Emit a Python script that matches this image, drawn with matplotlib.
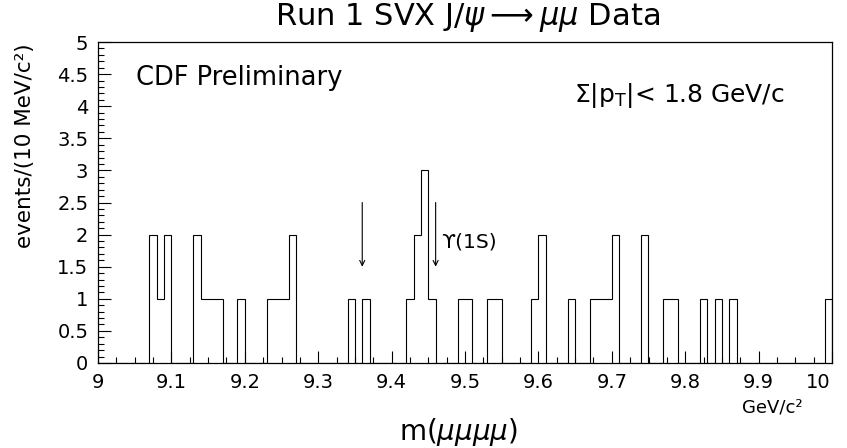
import numpy as np
import matplotlib
matplotlib.use("Agg")
import matplotlib.pyplot as plt
from matplotlib.transforms import ScaledTranslation

plt.rcParams['font.family'] = ['DejaVu Sans']
plt.rcParams['mathtext.fontset'] = 'dejavusans'

# histogram: 100 bins of 10 MeV from 9.0 to 10.0 GeV
x_lo, x_hi = 9.0, 10.0
counts = [0, 0, 0, 0, 0, 0, 0, 2, 1, 2,
          0, 0, 0, 2, 1, 1, 1, 0, 0, 1,
          0, 0, 0, 1, 1, 1, 2, 0, 0, 0,
          0, 0, 0, 0, 1, 0, 1, 0, 0, 0,
          0, 0, 1, 2, 3, 1, 0, 0, 0, 1,
          1, 0, 0, 1, 1, 0, 0, 0, 0, 1,
          2, 0, 0, 0, 1, 0, 0, 1, 1, 1,
          2, 0, 0, 0, 2, 0, 0, 1, 1, 0,
          0, 0, 1, 0, 1, 0, 1, 0, 0, 0,
          0, 0, 0, 0, 0, 0, 0, 0, 0, 1]
edges = np.linspace(x_lo, x_hi, len(counts) + 1)

# arrows marking the mass window
arrow_x = [9.36, 9.46]
arrow_top = 2.5
arrow_bottom = 1.5
x_ticks = [9.0, 9.1, 9.2, 9.3, 9.4, 9.5, 9.6, 9.7, 9.8, 9.9, 10.0]
x_ticklabels = ["9", "9.1", "9.2", "9.3", "9.4", "9.5", "9.6", "9.7", "9.8", "9.9", "10"]
y_ticks = [0, 0.5, 1, 1.5, 2, 2.5, 3, 3.5, 4, 4.5, 5]
y_ticklabels = ["0", "0.5", "1", "1.5", "2", "2.5", "3", "3.5", "4", "4.5", "5"]

fig = plt.figure(figsize=(8.47, 4.48), dpi=100)
ax = fig.add_axes([98 / 847, 1 - 363 / 448, 734 / 847, 321 / 448])

ax.stairs(counts, edges, color='black', linewidth=0.8)

ax.set_xlim(x_lo, x_hi)
ax.set_ylim(0, 5)
ax.set_xticks(x_ticks)
ax.set_xticklabels(x_ticklabels)
ax.set_xticks(np.arange(9.0, 10.0001, 0.025), minor=True)
ax.set_yticks(y_ticks)
ax.set_yticklabels(y_ticklabels)
ax.set_yticks(np.arange(0, 5.0001, 0.1), minor=True)
ax.tick_params(which='both', direction='in', top=False, right=False, labelsize=14, width=0.8)
ax.tick_params(which='major', length=9, pad=7)
ax.tick_params(which='minor', length=4.5)
for s in ax.spines.values():
    s.set_linewidth(0.9)

# last label sits a bit left of the axis end
lab = ax.get_xticklabels()[-1]
lab.set_transform(lab.get_transform() + ScaledTranslation(-14 / 100, 0, fig.dpi_scale_trans))

for xa in arrow_x:
    ax.annotate("", xy=(xa, arrow_bottom), xytext=(xa, arrow_top),
                arrowprops=dict(arrowstyle='->', color='black', lw=0.8,
                                shrinkA=0, shrinkB=0, mutation_scale=9))
ax.text(9.467, 1.88, "\u03d2(1S)", fontsize=14.5, ha='left', va='center')

ax.text(0.052, 0.888, "CDF Preliminary", transform=ax.transAxes, fontsize=18.5,
        ha='left', va='center')
ax.text(0.648, 0.832, r"$\Sigma$|p$_\mathrm{T}$|< 1.8 GeV/c", transform=ax.transAxes,
        fontsize=18, ha='left', va='center')

fig.text(468 / 847, 1 - 18 / 448, r"Run 1 SVX J/$\psi\longrightarrow\mu\mu$ Data",
         fontsize=22, ha='center', va='center')
fig.text(458 / 847, 1 - 432 / 448, r"m($\mu\mu\mu\mu$)", fontsize=20,
         ha='center', va='center')
fig.text(803 / 847, 1 - 407 / 448, "GeV/c\u00b2", fontsize=13, ha='right', va='center')
fig.text(25 / 847, 1 - 43 / 448, "events/(10 MeV/c\u00b2)", fontsize=15.5,
         rotation=90, ha='center', va='top')

fig.savefig("out.png", dpi=100)
